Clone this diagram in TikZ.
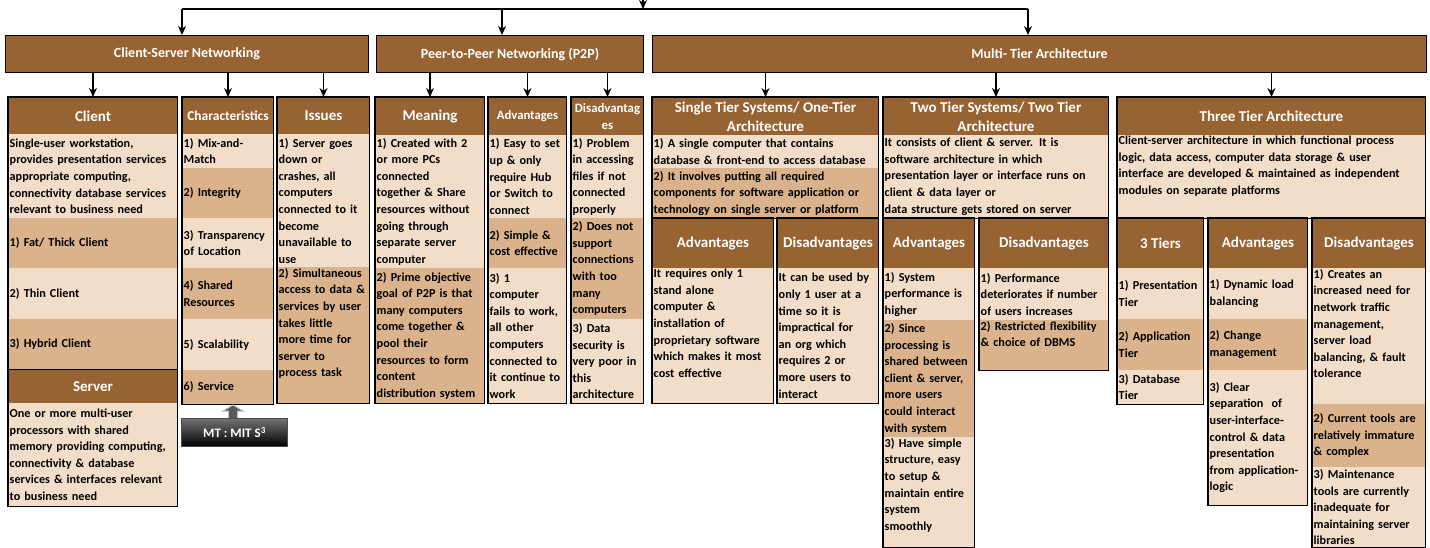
\documentclass[tikz,border=0pt]{standalone}
\usepackage{fontspec}
\setmainfont{Carlito}
\usetikzlibrary{shapes.geometric, arrows.meta}

\definecolor{hbrown}{RGB}{151,99,50}
\definecolor{lband}{RGB}{242,221,201}
\definecolor{dband}{RGB}{218,179,141}

\newcommand{\bodyfont}{\fontsize{12.2}{16.6}\selectfont\bfseries}
\newcommand{\headfont}{\fontsize{15}{19}\selectfont\bfseries}
\newcommand{\topfont}{\fontsize{14}{17}\selectfont\bfseries}
\newcommand{\topcell}[2]{\parbox[c][#1pt][t]{\linewidth}{\raggedright #2}}

\tikzstyle{head} = [rectangle, draw=black, line width=1pt, fill=hbrown, text=white, font=\headfont, align=center, anchor=north west, inner sep=0pt]
\tikzstyle{light} = [rectangle, fill=lband, anchor=north west, align=left, inner xsep=1.5pt, inner ysep=1pt, font=\bodyfont]
\tikzstyle{dark} = [light, fill=dband]
\tikzstyle{frame} = [draw=black, line width=1.3pt]
\tikzstyle{arrow} = [line width=1.3pt, -{Stealth[length=9pt, width=8pt]}]

\begin{document}
\begin{tikzpicture}[x=1pt, y=-1pt]
\useasboundingbox (0,0) rectangle (1430,548);

% top level
\node (csn) [head, font=\topfont, minimum width=363pt, minimum height=37pt] at (5,35) {Client-Server Networking};
\node (ppn) [head, font=\topfont, minimum width=267pt, minimum height=37pt] at (376,35) {Peer-to-Peer Networking (P2P)};
\node (mta) [head, font=\topfont, minimum width=774pt, minimum height=37pt] at (652,35) {Multi- Tier Architecture};

\coordinate (root) at (643,-2);
\coordinate (jl) at (182,9);
\coordinate (jm) at (502,9);
\coordinate (jr) at (1028,9);
\draw [line width=2pt] (jl) -- (jr);
\draw [arrow] (root) -- (root |- jl);
\draw [arrow] (jl) -- (jl |- csn.north);
\draw [arrow] (jm) -- (jm |- ppn.north);
\draw [arrow] (jr) -- (jr |- mta.north);

% client-server networking
\node (cli) [head, minimum width=169pt, minimum height=37pt] at (8,97) {Client};
\node (clib) [light, text width=166pt, minimum height=84pt] at (8,134) {Single-user workstation,\\provides presentation services\\appropriate computing,\\connectivity database services\\relevant to business need};
\node (cl1) [dark, text width=166pt, minimum height=50pt] at (8,218) {1) Fat/ Thick Client};
\node (cl2) [light, text width=166pt, minimum height=51pt] at (8,268) {2) Thin Client};
\node (cl3) [dark, text width=166pt, minimum height=50pt] at (8,319) {3) Hybrid Client};
\node (srv) [head, minimum width=169pt, minimum height=34pt] at (8,369) {Server};
\node (srvb) [light, text width=166pt, minimum height=103pt] at (8,403) {One or more multi-user\\processors with shared\\memory providing computing,\\connectivity \& database\\services \& interfaces relevant\\to business need};
\draw [frame] (cli.north west) rectangle (srvb.south east);

\node (chr) [head, font=\fontsize{13.5}{16}\selectfont\bfseries, minimum width=91pt, minimum height=37pt] at (182,97) {Characteristics};
\node (ch1) [light, text width=88pt, minimum height=34pt] at (182,134) {1) Mix-and-\\Match};
\node (ch2) [dark, text width=88pt, minimum height=50pt] at (182,168) {2) Integrity};
\node (ch3) [light, text width=88pt, minimum height=50pt] at (182,218) {3)~Transparency\\of Location};
\node (ch4) [dark, text width=88pt, minimum height=51pt] at (182,268) {4) Shared\\Resources};
\node (ch5) [light, text width=88pt, minimum height=51pt] at (182,319) {5) Scalability};
\node (ch6) [dark, text width=88pt, minimum height=34pt] at (182,370) {6) Service};
\draw [frame] (chr.north west) rectangle (ch6.south east);

\node (iss) [head, minimum width=92pt, minimum height=37pt] at (277,97) {Issues};
\node (is1) [light, text width=89pt, minimum height=133pt] at (277,134) {1) Server goes\\down or\\crashes, all\\computers\\connected to it\\become\\unavailable to\\use};
\node (is2) [dark, text width=89pt] at (277,267) {\topcell{134}{2) Simultaneous\\access to data \&\\services by user\\takes little\\more time for\\server to\\process task}};
\draw [frame] (iss.north west) rectangle (is2.south east);

% callout
\draw [fill=black!65, draw=black!25, line width=1pt] (233,405) -- (243,411) -- (237.5,411) -- (237.5,419) -- (228.5,419) -- (228.5,411) -- (223,411) -- cycle;
\node (mts) [anchor=north west, minimum width=106pt, minimum height=28pt, inner sep=0pt, top color=black!55, bottom color=black, draw=black!70, line width=1pt, text=white, font=\fontsize{13}{14}\selectfont\bfseries] at (181,418) {MT : MIT S\textsuperscript{3}};

% peer-to-peer networking
\node (mea) [head, minimum width=109pt, minimum height=38pt] at (375,97) {Meaning};
\node (me1) [light, text width=106pt, minimum height=133pt] at (375,135) {1) Created with 2\\or more PCs\\connected\\together \& Share\\resources without\\going through\\separate server\\computer};
\node (me2) [dark, text width=106pt, minimum height=135pt] at (375,268) {2) Prime objective\\goal of P2P is that\\many computers\\come together \&\\pool their\\resources to form\\content\\distribution system};
\draw [frame] (mea.north west) rectangle (me2.south east);

\node (pad) [head, font=\fontsize{12.7}{16}\selectfont\bfseries, minimum width=78pt, minimum height=38pt] at (488,97) {Advantages};
\node (pa1) [light, text width=75pt, minimum height=83pt] at (488,135) {1) Easy to set\\up \& only\\require Hub\\or Switch to\\connect};
\node (pa2) [dark, text width=75pt, minimum height=50pt] at (488,218) {2) Simple \&\\cost effective};
\node (pa3) [light, text width=75pt, minimum height=135pt] at (488,268) {3) 1\\computer\\fails to work,\\all other\\computers\\connected to\\it continue to\\work};
\draw [frame] (pad.north west) rectangle (pa3.south east);

\node (pdi) [head, font=\fontsize{12.8}{17}\selectfont\bfseries, minimum width=72pt, minimum height=38pt] at (571,97) {Disadvantag\\es};
\node (pd1) [light, text width=69pt, minimum height=83pt] at (571,135) {1) Problem\\in accessing\\files if not\\connected\\properly};
\node (pd2) [dark, text width=69pt, minimum height=101pt] at (571,218) {2) Does not\\support\\connections\\with too\\many\\computers};
\node (pd3) [light, text width=69pt, minimum height=84pt] at (571,319) {3) Data\\security is\\very poor in\\this\\architecture};
\draw [frame] (pdi.north west) rectangle (pd3.south east);

% multi-tier architecture
\node (one) [head, minimum width=226pt, minimum height=38pt] at (652,97) {Single Tier Systems/ One-Tier\\Architecture};
\node (on1) [light, text width=223pt, minimum height=33pt] at (652,135) {1) A single computer that contains\\database \& front-end to access database};
\node (on2) [dark, text width=223pt, minimum height=50pt] at (652,168) {2) It involves putting all required\\components for software application or\\technology on single server or platform};
\draw [frame] (one.north west) rectangle (on2.south east);
\node (oad) [head, minimum width=121pt, minimum height=50pt] at (652,218) {Advantages};
\node (oab) [light, text width=118pt] at (652,268) {\topcell{133}{It requires only 1\\stand alone\\computer \&\\installation of\\proprietary software\\which makes it most\\cost effective}};
\draw [frame] (oad.north west) rectangle (oab.south east);
\node (odi) [head, minimum width=101pt, minimum height=50pt] at (777,218) {Disadvantages};
\node (odb) [light, text width=98pt, minimum height=135pt] at (777,268) {It can be used by\\only 1 user at a\\time so it is\\impractical for\\an org which\\requires 2 or\\more users to\\interact};
\draw [frame] (odi.north west) rectangle (odb.south east);

\node (two) [head, minimum width=225pt, minimum height=38pt] at (883,97) {Two Tier Systems/ Two Tier\\Architecture};
\node (tw1) [light, text width=222pt, minimum height=83pt] at (883,135) {It consists of client \& server. It is\\software architecture in which\\presentation layer or interface runs on\\client \& data layer or\\data structure gets stored on server};
\draw [frame] (two.north west) rectangle (tw1.south east);
\node (tad) [head, minimum width=91pt, minimum height=50pt] at (883,218) {Advantages};
\node (ta1) [light, text width=88pt, minimum height=52pt] at (883,268) {1) System\\performance is\\higher};
\node (ta2) [dark, text width=88pt, minimum height=117pt] at (883,320) {2) Since\\processing is\\shared between\\client \& server,\\more users\\could interact\\with system};
\node (ta3) [light, text width=88pt] at (883,437) {\topcell{108}{3) Have simple\\structure, easy\\to setup \&\\maintain entire\\system\\smoothly}};
\draw [frame] (tad.north west) rectangle (ta3.south east);
\node (tdi) [head, minimum width=129pt, minimum height=50pt] at (979,218) {Disadvantages};
\node (td1) [light, text width=126pt, minimum height=52pt] at (979,268) {1) Performance\\deteriorates if number\\of users increases};
\node (td2) [dark, text width=126pt] at (979,320) {\topcell{48}{2) Restricted flexibility\\\& choice of DBMS}};
\draw [frame] (tdi.north west) rectangle (td2.south east);

\node (thr) [head, minimum width=308pt, minimum height=38pt] at (1117,97) {Three Tier Architecture};
\node (th1) [light, text width=305pt] at (1117,135) {\topcell{81}{Client-server architecture in which functional process\\logic, data access, computer data storage \& user\\interface are developed \& maintained as independent\\modules on separate platforms}};
\draw [frame] (thr.north west) rectangle (th1.south east);
\node (tti) [head, minimum width=86pt, minimum height=50pt] at (1117,218) {3 Tiers};
\node (tt1) [light, text width=83pt, minimum height=51pt] at (1117,268) {1) Presentation\\Tier};
\node (tt2) [dark, text width=83pt, minimum height=51pt] at (1117,319) {2) Application\\Tier};
\node (tt3) [light, text width=83pt, minimum height=34pt] at (1117,370) {3) Database\\Tier};
\draw [frame] (tti.north west) rectangle (tt3.south east);
\node (hav) [head, minimum width=99pt, minimum height=50pt] at (1208,218) {Advantages};
\node (ha1) [light, text width=96pt, minimum height=51pt] at (1208,268) {1) Dynamic load\\balancing};
\node (ha2) [dark, text width=96pt, minimum height=51pt] at (1208,319) {2) Change\\management};
\node (ha3) [light, text width=96pt, minimum height=135pt] at (1208,370) {3) Clear\\separation~ of\\user-interface-\\control \& data\\presentation\\from application-\\logic};
\draw [frame] (hav.north west) rectangle (ha3.south east);
\node (hdi) [head, minimum width=113pt, minimum height=50pt] at (1312,218) {Disadvantages};
\node (hd1) [light, text width=110pt] at (1312,268) {\topcell{134}{1) Creates an\\increased need for\\network traffic\\management,\\server load\\balancing, \& fault\\tolerance}};
\node (hd2) [dark, text width=110pt, minimum height=63pt] at (1312,404) {2) Current tools are\\relatively immature\\\& complex};
\node (hd3) [light, text width=110pt, minimum height=80pt] at (1312,467) {3) Maintenance\\tools are currently\\inadequate for\\maintaining server\\libraries};
\draw [frame] (hdi.north west) rectangle (hd3.south east);

% level-2 arrows
\draw [arrow] (cli.north |- csn.south) -- (cli.north);
\draw [arrow] (chr.north |- csn.south) -- (chr.north);
\draw [arrow] (iss.north |- csn.south) -- (iss.north);
\draw [arrow] (mea.north |- ppn.south) -- (mea.north);
\draw [arrow] (pad.north |- ppn.south) -- (pad.north);
\draw [arrow] (pdi.north |- ppn.south) -- (pdi.north);
\draw [arrow] (one.north |- mta.south) -- (one.north);
\draw [arrow] (two.north |- mta.south) -- (two.north);
\draw [arrow] (thr.north |- mta.south) -- (thr.north);
\end{tikzpicture}
\end{document}
